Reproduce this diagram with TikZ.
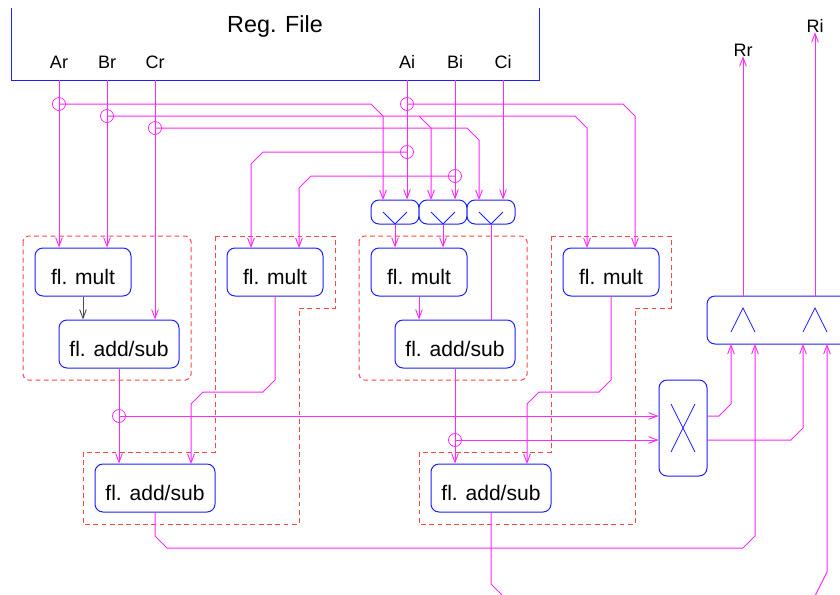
\documentclass[tikz,border=0pt]{standalone}
\usepackage{fontspec}
\setmainfont{Liberation Sans}
\usetikzlibrary{arrows.meta,calc}
\definecolor{wire}{RGB}{255,40,255}
\definecolor{unit}{RGB}{30,30,255}
\definecolor{grp}{RGB}{255,70,70}
\tikzset{
  px/.style={x=0.75pt,y=-0.75pt},
  unitbox/.style={draw=unit,fill=white,line width=0.75pt,rounded corners=6pt,inner sep=0pt,text height=18pt,text depth=0pt,font=\fontsize{15.8pt}{18pt}\selectfont,align=center},
  multbox/.style={unitbox,minimum width=72pt,minimum height=36pt},
  addbox/.style={unitbox,minimum width=90pt,minimum height=36pt},
  muxbox/.style={draw=unit,fill=white,line width=0.75pt,rounded corners=6pt,inner sep=0pt,minimum width=36pt,minimum height=18pt},
  sig/.style={draw=wire,line width=0.75pt},
  sigarrow/.style={sig,-{Straight Barb[length=6.5pt,width=5pt,line width=0.7pt]}},
  blackarrow/.style={draw=black!70,line width=0.75pt,-{Straight Barb[length=6.5pt,width=5pt,line width=0.7pt]}},
  glyph/.style={draw=unit,line width=0.6pt},
  group/.style={draw=grp,line width=0.75pt,dash pattern=on 3.6pt off 2.6pt},
  junction/.style={circle,draw=wire,line width=0.6pt,inner sep=0pt,minimum size=9.75pt},
  pin/.style={anchor=base,inner sep=0pt,font=\fontsize{13.5pt}{16pt}\selectfont},
  regtitle/.style={anchor=base,inner sep=0pt,font=\fontsize{17.5pt}{20pt}\selectfont},
}
\begin{document}
\begin{tikzpicture}[px]
\clip (0,0) rectangle (840,594);
% register file
\draw[draw=unit,line width=0.75pt] (11,8) -- (11,80) -- (539,80) -- (539,8);
\node[regtitle] (rf) at (275,32) {Reg. File};
\node[pin] (Ar) at (59,68) {Ar};
\node[pin] (Br) at (107,68) {Br};
\node[pin] (Cr) at (155,68) {Cr};
\node[pin] (Ai) at (407,68) {Ai};
\node[pin] (Bi) at (455,68) {Bi};
\node[pin] (Ci) at (503,68) {Ci};
\node[pin] (Rr) at (743,56) {Rr};
\node[pin] (Ri) at (815,32) {Ri};
\foreach \n/\x in {Ar/59,Br/107,Cr/155,Ai/407,Bi/455,Ci/503}
  \coordinate (p\n) at (\x,80);
% dashed groups
\draw[group,rounded corners=4pt] (23,236) rectangle (191,380);
\draw[group,rounded corners=4pt] (359,236) rectangle (527,380);
\draw[group] (215,236) -- (335,236) -- (335,308) -- (299,308) -- (299,524) -- (83,524) -- (83,452) -- (215,452) -- cycle;
\draw[group] (551,236) -- (671,236) -- (671,308) -- (635,308) -- (635,524) -- (419,524) -- (419,452) -- (551,452) -- cycle;
% units
\node[multbox] (m1) at (83,272) {fl. mult};
\node[addbox] (a1) at (119,344) {fl. add/sub};
\node[multbox] (m2) at (275,272) {fl. mult};
\node[addbox] (a2) at (155,488) {fl. add/sub};
\node[multbox] (m3) at (419,272) {fl. mult};
\node[addbox] (a3) at (455,344) {fl. add/sub};
\node[multbox] (m4) at (611,272) {fl. mult};
\node[addbox] (a4) at (491,488) {fl. add/sub};
\node[muxbox] (x1) at (395,212) {};
\node[muxbox] (x2) at (443,212) {};
\node[muxbox] (x3) at (491,212) {};
\node[muxbox,minimum width=36pt,minimum height=72pt] (xb) at (683,428) {};
\node[muxbox,minimum width=108pt,minimum height=36pt] (lb) at (779,320) {};
% glyphs
\foreach \x in {395,443,491}
  \draw[glyph] (\x-12,212) -- (\x,224) -- (\x+12,212);
\foreach \x in {743,815}
  \draw[glyph] (\x-12,332) -- (\x,308) -- (\x+12,332);
\draw[glyph] (671,404) -- (695,452) (695,404) -- (671,452);
% junctions
\node[junction] (j1) at (59,104) {};
\node[junction] (j2) at (107,116) {};
\node[junction] (j3) at (155,128) {};
\node[junction] (j4) at (407,104) {};
\node[junction] (j5) at (407,152) {};
\node[junction] (j6) at (455,176) {};
\node[junction] (j7) at (119,416) {};
\node[junction] (j8) at (455,440) {};
% register outputs
\draw[sigarrow] (pAr) -- (pAr |- m1.north);
\draw[sigarrow] (pBr) -- (pBr |- m1.north);
\draw[sigarrow] (pCr) -- (pCr |- a1.north);
\draw[sigarrow] (pAi) -- (pAi |- x1.north);
\draw[sigarrow] (pBi) -- (pBi |- x2.north);
\draw[sigarrow] (pCi) -- (pCi |- x3.north);
% crossing buses
\draw[sigarrow] (j1.center) -- (371,104) -- (383,116) -- (383,200);
\draw[sigarrow] (j2.center) -- (575,116) -- (587,128) -- (587,248);
\draw[sigarrow] (419,116) -- (431,128) -- (431,200);
\draw[sigarrow] (j3.center) -- (467,128) -- (479,140) -- (479,200);
\draw[sigarrow] (j4.center) -- (623,104) -- (635,116) -- (635,248);
\draw[sigarrow] (j5.center) -- (263,152) -- (251,164) -- (251,248);
\draw[sigarrow] (j6.center) -- (311,176) -- (299,188) -- (299,248);
% mux to unit
\draw[sigarrow] (x1.south) -- (x1.south |- m3.north);
\draw[sigarrow] (x2.south) -- (x2.south |- m3.north);
\draw[sig] (x3.south) -- (x3.south |- a3.north);
% mult to add
\draw[blackarrow] (m1.south) -- (m1.south |- a1.north);
\draw[sigarrow] (m3.south) -- (m3.south |- a3.north);
% adder outputs
\draw[sigarrow] (a1.south) -- (a1.south |- a2.north);
\draw[sigarrow] (a3.south) -- (a3.south |- a4.north);
\draw[sigarrow] (j7.center) -- (xb.west |- j7.center);
\draw[sigarrow] (j8.center) -- (xb.west |- j8.center);
% mult outputs
\draw[sigarrow] (m2.south) -- (275,380) -- (263,392) -- (203,392) -- (191,404) -- (191,464);
\draw[sigarrow] (m4.south) -- (611,380) -- (599,392) -- (539,392) -- (527,404) -- (527,464);
% final adder outputs
\draw[sigarrow] (a2.south) -- (155,536) -- (167,548) -- (743,548) -- (755,536) -- (755,344);
\coordinate (lowA) at (503,596);
\coordinate (lowB) at (815,596);
\draw[sig] (a4.south) -- (491,584) -- (lowA);
\draw[sigarrow] (lowB) -- (827,572) -- (827,344);
% swap outputs
\draw[sigarrow] (xb.east |- j7.center) -- (719,416) -- (731,404) -- (731,344);
\draw[sigarrow] (xb.east |- j8.center) -- (791,440) -- (803,428) -- (803,344);
% results
\draw[sigarrow] (Rr.south |- lb.north) -- (Rr.south);
\draw[sigarrow] (Ri.south |- lb.north) -- (Ri.south);
\end{tikzpicture}
\end{document}
